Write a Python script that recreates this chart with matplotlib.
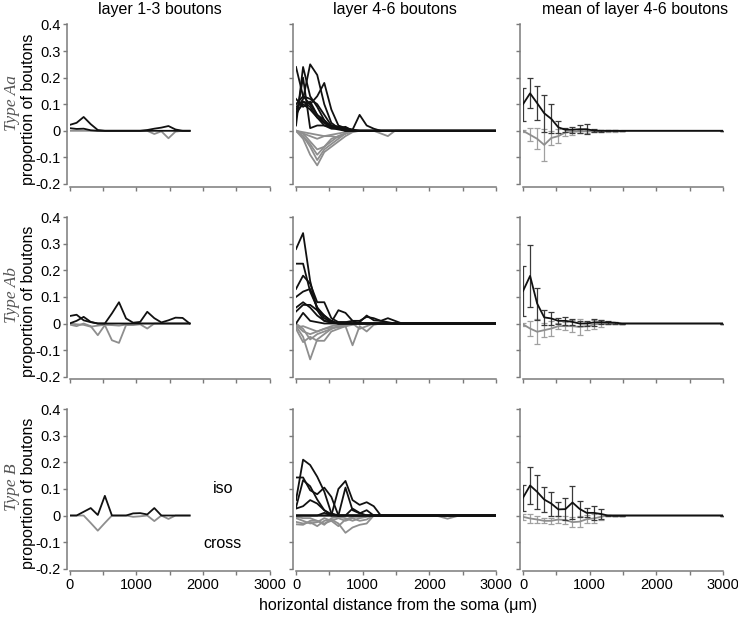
import numpy as np
import matplotlib.pyplot as plt

BIN = 106
x_l13 = np.arange(18) * BIN                      # layer 1-3 panels stop at ~1800
x_l46 = np.append(np.arange(16) * BIN, 3000)     # layer 4-6 panels, flat to 3000
x_mean = np.append(np.arange(15) * BIN, 3000)

row_types = ['Aa', 'Ab', 'B']

# ---- layer 1-3 boutons (iso = black, cross = grey)
aa_l13_iso = [
    [0.022, 0.030, 0.052, 0.025, 0.003, 0, 0, 0, 0, 0, 0, 0.003, 0.008, 0.012, 0.018, 0.005, 0, 0],
    [0.010, 0.007, 0.008, 0.002, 0, 0, 0, 0, 0, 0, 0, 0, 0, 0, 0, 0, 0, 0],
]
aa_l13_cross = [
    [0, 0, 0, 0, 0, 0, 0, 0, 0, 0, 0, 0, -0.012, -0.002, -0.028, -0.003, 0, 0],
]
ab_l13_iso = [
    [0.028, 0.033, 0.012, 0.005, 0, 0, 0.038, 0.080, 0.019, 0.003, 0.006, 0.044, 0.020, 0.004, 0.012, 0.022, 0.021, 0],
    [0, 0.010, 0.025, 0.006, 0, 0, 0, 0, 0, 0, 0, 0, 0, 0, 0, 0, 0, 0],
]
ab_l13_cross = [
    [-0.004, -0.010, 0, -0.010, -0.044, -0.006, -0.063, -0.073, -0.006, -0.006, -0.003, -0.019, 0, 0, 0, 0, 0, 0],
    [0, -0.003, -0.005, -0.012, -0.008, -0.005, -0.006, -0.008, -0.004, 0, 0, 0, 0, 0, 0, 0, 0, 0],
]
b_l13_iso = [
    [0, 0, 0.014, 0.028, 0.002, 0.074, 0, 0, 0, 0.008, 0.009, 0.004, 0.028, 0, 0, 0, 0, 0],
]
b_l13_cross = [
    [0, 0, 0, -0.028, -0.057, -0.028, 0, 0, 0, -0.005, -0.003, 0, -0.021, 0, -0.013, 0, 0, 0],
]

# ---- layer 4-6 boutons, individual neurons
aa_l46_iso = [
    [0.24, 0.13, 0.10, 0.06, 0.03, 0.010, 0.010, 0.015, 0, 0, 0, 0, 0, 0, 0, 0, 0],
    [0.02, 0.24, 0.13, 0.09, 0.04, 0.010, 0.005, 0, 0, 0, 0, 0, 0, 0, 0, 0, 0],
    [0.08, 0.12, 0.25, 0.21, 0.10, 0.030, 0.010, 0.010, 0.005, 0, 0, 0, 0, 0, 0, 0, 0],
    [0.10, 0.13, 0.12, 0.10, 0.06, 0.020, 0.015, 0.005, 0, 0, 0, 0, 0, 0, 0, 0, 0],
    [0.06, 0.11, 0.10, 0.13, 0.18, 0.080, 0.020, 0.010, 0, 0, 0, 0, 0, 0, 0, 0, 0],
    [0.05, 0.20, 0.01, 0.02, 0.02, 0.015, 0.010, 0, 0, 0, 0, 0, 0, 0, 0, 0, 0],
    [0.09, 0.11, 0.09, 0.05, 0.02, 0.008, 0.010, 0.005, 0.004, 0.060, 0.020, 0.008, 0, 0, 0, 0, 0],
    [0.07, 0.10, 0.08, 0.05, 0.03, 0.020, 0.015, 0.010, 0, 0, 0, 0, 0, 0, 0, 0, 0],
    [0.12, 0.09, 0.11, 0.06, 0.04, 0.015, 0.010, 0, 0, 0, 0, 0, 0, 0, 0, 0, 0],
]
aa_l46_cross = [
    [0, -0.03, -0.09, -0.13, -0.08, -0.06, -0.04, -0.02, -0.005, 0, 0, 0, 0, 0, 0, 0, 0],
    [0, -0.02, -0.06, -0.11, -0.07, -0.05, -0.03, -0.01, 0, 0, 0, 0, 0, 0, 0, 0, 0],
    [0, -0.01, -0.04, -0.07, -0.06, -0.04, -0.02, -0.01, 0, 0, 0, 0, 0, 0, 0, 0, 0],
    [0, -0.01, -0.02, -0.03, -0.02, -0.02, -0.025, -0.01, 0, 0, 0, 0, 0, 0, 0, 0, 0],
    [0, -0.005, -0.01, -0.015, -0.02, -0.015, -0.01, -0.005, 0, 0, 0, 0, -0.01, -0.02, 0, 0, 0],
    [0, -0.02, -0.05, -0.09, -0.06, -0.03, -0.02, -0.01, 0, 0, 0, 0, 0, 0, 0, 0, 0],
]
ab_l46_iso = [
    [0.28, 0.34, 0.16, 0.05, 0.01, 0.005, 0, 0, 0, 0, 0, 0, 0, 0, 0, 0, 0],
    [0.225, 0.225, 0.12, 0.06, 0.02, 0.005, 0, 0, 0, 0, 0, 0, 0, 0, 0, 0, 0],
    [0.13, 0.18, 0.15, 0.08, 0.08, 0.02, 0.005, 0.005, 0, 0.005, 0.03, 0.012, 0.01, 0.005, 0, 0, 0],
    [0.10, 0.12, 0.13, 0.06, 0.03, 0.005, 0.05, 0.04, 0.01, 0, 0, 0, 0, 0, 0, 0, 0],
    [0.045, 0.07, 0.07, 0.05, 0.03, 0.01, 0, 0, 0, 0, 0, 0, 0, 0, 0, 0, 0],
    [0, 0.04, 0.01, 0.005, 0, 0, 0, 0, 0, 0, 0, 0, 0, 0, 0, 0, 0],
    [0.06, 0.08, 0.06, 0.03, 0.01, 0.003, 0.005, 0.005, 0.01, 0.01, 0.025, 0.02, 0.01, 0.02, 0.01, 0, 0],
]
ab_l46_cross = [
    [-0.01, -0.05, -0.135, -0.06, -0.04, -0.02, -0.01, -0.005, 0, 0, 0, 0, 0, 0, 0, 0, 0],
    [-0.02, -0.07, -0.05, -0.065, -0.065, -0.03, -0.02, -0.01, -0.005, 0, 0, 0, 0, 0, 0, 0, 0],
    [-0.005, -0.03, -0.04, -0.03, -0.02, -0.015, -0.015, -0.01, -0.082, -0.01, -0.03, -0.005, 0, 0, 0, 0, 0],
    [0, -0.02, -0.06, -0.04, -0.03, -0.02, -0.01, -0.01, 0, -0.02, -0.01, 0, 0, 0, 0, 0, 0],
    [-0.015, -0.01, -0.02, -0.03, -0.02, -0.01, -0.005, 0, 0, 0, 0, 0, 0, 0, 0, 0, 0],
]
b_l46_iso = [
    [0.058, 0.21, 0.19, 0.146, 0.09, 0.008, 0, 0, 0, 0, 0, 0, 0, 0, 0, 0, 0],
    [0.143, 0.143, 0.095, 0.08, 0.105, 0.07, 0, 0, 0, 0, 0, 0, 0, 0, 0, 0, 0],
    [0.026, 0.035, 0.058, 0.045, 0.02, 0, 0, 0, 0, 0, 0, 0, 0, 0, 0, 0, 0],
    [0.03, 0.133, 0.11, 0.06, 0.02, 0.005, 0, 0, 0, 0, 0, 0, 0, 0, 0, 0, 0],
    [0, 0, 0, 0, 0.01, 0, 0.10, 0.13, 0.058, 0.04, 0.05, 0.035, 0, 0, 0, 0, 0],
    [0, 0, 0, 0, 0, 0, 0, 0.105, 0.02, 0.008, 0.02, 0, 0, 0, 0, 0, 0],
    [0, 0, 0, 0, 0, 0, 0, 0, 0.026, 0.01, 0, 0, 0, 0, 0, 0, 0],
]
b_l46_cross = [
    [-0.024, -0.03, -0.025, -0.04, -0.02, -0.015, -0.03, -0.065, -0.045, -0.035, -0.03, 0, 0, 0, 0, 0, 0],
    [-0.033, -0.035, -0.02, -0.02, -0.03, -0.02, -0.01, -0.02, -0.01, -0.02, -0.015, 0, 0, 0, 0, 0, 0],
    [-0.01, -0.02, -0.03, -0.025, -0.01, -0.02, -0.04, -0.015, -0.005, -0.005, 0, 0, 0, 0, 0, 0, 0],
    [-0.005, -0.01, -0.01, -0.02, -0.035, -0.01, -0.005, -0.01, -0.02, -0.01, -0.005, 0, 0, 0, 0, 0, 0],
]
# small late dip in one type B cross neuron
b_l46_tail_x = [1590, 2100, 2272, 2450, 3000]
b_l46_tail_y = [0, 0, -0.012, 0, 0]

# ---- mean of layer 4-6 boutons with error bars
aa_mean_iso = [0.10, 0.141, 0.104, 0.066, 0.045, 0.013, 0.004, 0.004, 0.006, 0.006, 0.001, 0, 0, 0, 0, 0]
aa_err_iso = [0.062, 0.057, 0.065, 0.07, 0.054, 0.022, 0.008, 0.011, 0.015, 0.019, 0.005, 0.003, 0.002, 0.002, 0, 0]
aa_mean_cross = [0, -0.015, -0.03, -0.053, -0.027, -0.02, -0.006, -0.004, -0.002, -0.002, -0.002, -0.001, -0.001, -0.001, 0, 0]
aa_err_cross = [0.003, 0.025, 0.04, 0.06, 0.025, 0.025, 0.012, 0.012, 0.006, 0.005, 0.004, 0.003, 0.003, 0.003, 0, 0]

ab_mean_iso = [0.122, 0.179, 0.075, 0.023, 0.019, 0.01, 0.01, 0.006, 0, 0, 0.004, 0.005, 0.004, 0.003, 0, 0]
ab_err_iso = [0.093, 0.116, 0.06, 0.028, 0.026, 0.011, 0.016, 0.012, 0.01, 0.01, 0.012, 0.008, 0.005, 0.004, 0, 0]
ab_mean_cross = [-0.003, -0.019, -0.031, -0.025, -0.019, -0.01, -0.01, -0.01, -0.013, -0.01, -0.004, 0, 0, 0, 0, 0]
ab_err_cross = [0.006, 0.028, 0.047, 0.026, 0.028, 0.011, 0.016, 0.023, 0.031, 0.016, 0.017, 0.012, 0, 0, 0, 0]

b_mean_iso = [0.067, 0.113, 0.089, 0.06, 0.045, 0.023, 0.024, 0.049, 0.025, 0.01, 0.01, 0.006, 0, 0, 0, 0]
b_err_iso = [0.049, 0.068, 0.065, 0.047, 0.045, 0.026, 0.04, 0.063, 0.03, 0.017, 0.025, 0.019, 0.003, 0, 0, 0]
b_mean_cross = [-0.005, -0.011, -0.015, -0.02, -0.02, -0.015, -0.017, -0.025, -0.023, -0.014, -0.011, -0.005, 0, 0, 0, 0]
b_err_cross = [0.01, 0.016, 0.012, 0.01, 0.012, 0.012, 0.014, 0.02, 0.02, 0.015, 0.016, 0.01, 0, 0, 0, 0]

x_ticks = [0, 500, 1000, 1500, 2000, 2500, 3000]
x_ticklabels = ['0', '', '1000', '', '2000', '', '3000']
y_ticks = [-0.2, -0.1, 0, 0.1, 0.2, 0.3, 0.4]
y_ticklabels = ['-0.2', '-0.1', '0', '0.1', '0.2', '0.3', '0.4']

BLACK = '#111111'
GREY = '#8e8e8e'
AXC = '#7a7a7a'

plt.rcParams['font.family'] = ['Liberation Sans', 'DejaVu Sans']

fig = plt.figure(figsize=(7.38, 6.22), dpi=100)

col_left = [0.0942, 0.4011, 0.7087]
col_w = 0.271
row_bottom = [0.7042, 0.3944, 0.0857]
row_h = 0.2565

panels = [
    [(aa_l13_iso, aa_l13_cross), (aa_l46_iso, aa_l46_cross),
     (aa_mean_iso, aa_err_iso, aa_mean_cross, aa_err_cross)],
    [(ab_l13_iso, ab_l13_cross), (ab_l46_iso, ab_l46_cross),
     (ab_mean_iso, ab_err_iso, ab_mean_cross, ab_err_cross)],
    [(b_l13_iso, b_l13_cross), (b_l46_iso, b_l46_cross),
     (b_mean_iso, b_err_iso, b_mean_cross, b_err_cross)],
]

for r in range(3):
    for c in range(3):
        ax = fig.add_axes([col_left[c], row_bottom[r], col_w, row_h])
        data = panels[r][c]
        if c < 2:
            xs = x_l13 if c == 0 else x_l46
            for ys in data[1]:
                ax.plot(xs, ys, color=GREY, lw=1.3, zorder=2)
            for ys in data[0]:
                ax.plot(xs, ys, color=BLACK, lw=1.3, zorder=3)
            if r == 2 and c == 1:
                ax.plot(b_l46_tail_x, b_l46_tail_y, color=GREY, lw=1.3, zorder=2)
        else:
            m_iso, e_iso, m_cr, e_cr = data
            ax.errorbar(x_mean, m_cr, yerr=e_cr, color=GREY, ecolor='#a0a0a0',
                        elinewidth=0.9, capsize=2.5, capthick=0.9, lw=1.3, zorder=2)
            ax.errorbar(x_mean, m_iso, yerr=e_iso, color=BLACK, ecolor='#3a3a3a',
                        elinewidth=0.9, capsize=2.5, capthick=0.9, lw=1.3, zorder=3)

        ax.set_xlim(0, 3000)
        ax.set_ylim(-0.2, 0.4)
        for s in ['top', 'right']:
            ax.spines[s].set_visible(False)
        for s in ['left', 'bottom']:
            ax.spines[s].set_color(AXC)
            ax.spines[s].set_linewidth(1.1)
        ax.spines['left'].set_position(('outward', 2))
        ax.spines['bottom'].set_position(('outward', 2))
        ax.tick_params(direction='out', length=3, width=1, color=AXC, labelsize=10.5, pad=1.5)
        ax.set_xticks(x_ticks)
        ax.set_yticks(y_ticks)
        if r == 2:
            ax.set_xticklabels(x_ticklabels)
        else:
            ax.set_xticklabels([])
        if c == 0:
            ax.set_yticklabels(y_ticklabels)
            ax.text(-0.207, 0.47, 'proportion of boutons', transform=ax.transAxes,
                    rotation=90, ha='center', va='center', fontsize=11.5)
            ax.text(-0.29, 0.51, 'Type ' + row_types[r], transform=ax.transAxes,
                    rotation=90, ha='center', va='center', fontsize=12.5,
                    style='italic', family='Liberation Serif', color='#555555')
        else:
            ax.set_yticklabels([])

        if r == 2 and c == 0:
            ax.text(2300, 0.1, 'iso', fontsize=11.5, ha='center', va='center')
            ax.text(2300, -0.105, 'cross', fontsize=11.5, ha='center', va='center')

fig.text(0.217, 0.997, 'layer 1-3 boutons', ha='center', va='top', fontsize=11.5)
fig.text(0.535, 0.997, 'layer 4-6 boutons', ha='center', va='top', fontsize=11.5)
fig.text(0.86, 0.997, 'mean of layer 4-6 boutons', ha='center', va='top', fontsize=11.5)
fig.text(0.539, 0.027, 'horizontal distance from the soma (\u03bcm)', ha='center',
         va='center', fontsize=11.5)

fig.savefig('out.png', dpi=100)
